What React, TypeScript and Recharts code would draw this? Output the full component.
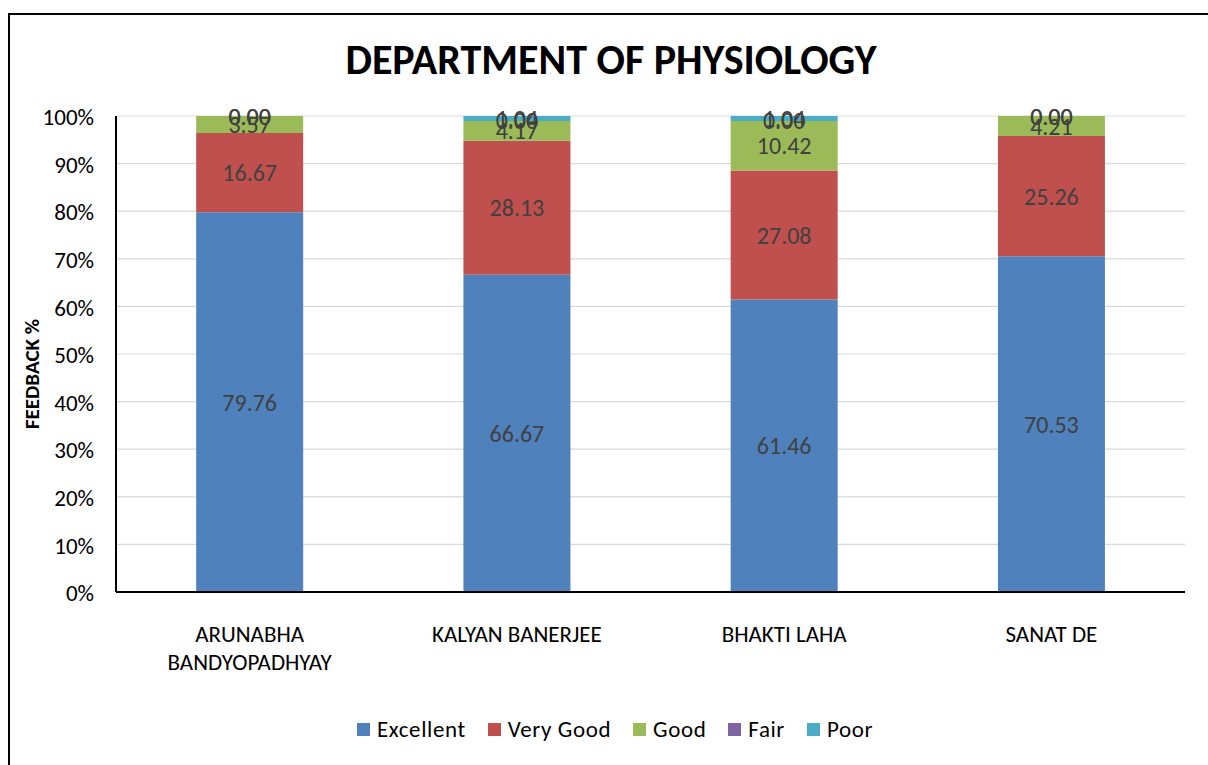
// @ts-nocheck
import { BarChart, Bar, XAxis, YAxis, CartesianGrid, LabelList } from "recharts";

const teachers = ["ARUNABHA\nBANDYOPADHYAY", "KALYAN BANERJEE", "BHAKTI LAHA", "SANAT DE"];
const excellent = [79.76, 66.67, 61.46, 70.53];
const veryGood = [16.67, 28.13, 27.08, 25.26];
const good = [3.57, 4.17, 10.42, 4.21];
const fair = [0, 0, 0, 0];
const poor = [0, 1.04, 1.04, 0];
const yTicks = [0, 10, 20, 30, 40, 50, 60, 70, 80, 90, 100];

const series = [
  { key: "Excellent", color: "#4F81BD" },
  { key: "Very Good", color: "#C0504D" },
  { key: "Good", color: "#9BBB59" },
  { key: "Fair", color: "#8064A2" },
  { key: "Poor", color: "#4BACC6" },
];

const data = teachers.map((name, i) => ({
  name,
  Excellent: excellent[i],
  "Very Good": veryGood[i],
  Good: good[i],
  Fair: fair[i],
  Poor: poor[i],
}));

const font = "Carlito, 'Liberation Sans', Arial, sans-serif";

function XTick({ x, y, payload }) {
  const lines = String(payload.value).split("\n");
  return (
    <text x={x} y={y + 42} textAnchor="middle" fontSize={23} fontFamily={font} fill="#000">
      {lines.map((l, i) => (
        <tspan key={i} x={x} dy={i === 0 ? 0 : 28}>
          {l}
        </tspan>
      ))}
    </text>
  );
}

function YLabel({ viewBox }) {
  const cy = viewBox.y + viewBox.height / 2 + 20;
  return (
    <text
      x={39}
      y={cy}
      transform={`rotate(-90, 39, ${cy})`}
      textAnchor="middle"
      fontSize={21}
      fontWeight="bold"
      fontFamily={font}
      fill="#000"
    >
      FEEDBACK %
    </text>
  );
}

export default function App() {
  return (
    <div style={{ position: "fixed", left: 0, top: 0, width: 1208, height: 765, overflow: "hidden", background: "#fff" }}>
      <div style={{ position: "absolute", left: 8, top: 13, width: 1230, height: 790, border: "2px solid #000", boxSizing: "border-box" }} />
      <div style={{ position: "absolute", left: 0, top: 34, width: 1222, textAlign: "center", fontFamily: font, fontWeight: "bold", fontSize: 42, color: "#000" }}>
        DEPARTMENT OF PHYSIOLOGY
      </div>
      <div style={{ position: "absolute", left: 0, top: 0 }}>
        <BarChart
          width={1208}
          height={765}
          data={data}
          barCategoryGap="30%"
          margin={{ top: 116, right: 23, bottom: 143, left: 0 }}
        >
          <CartesianGrid vertical={false} stroke="#d9d9d9" strokeWidth={1.2} />
          <XAxis
            dataKey="name"
            height={30}
            tick={<XTick />}
            tickLine={false}
            axisLine={{ stroke: "#000", strokeWidth: 2 }}
            interval={0}
          />
          <YAxis
            domain={[0, 100]}
            ticks={yTicks}
            allowDataOverflow
            width={116}
            tickFormatter={(v) => `${v}%`}
            tick={{ fontSize: 23, fontFamily: font, fill: "#000", dx: -14, dy: 1 }}
            tickLine={false}
            axisLine={{ stroke: "#000", strokeWidth: 2 }}
            label={<YLabel />}
          />
          {series.map((s) => (
            <Bar key={s.key} dataKey={s.key} stackId="a" fill={s.color} minPointSize={0.01} isAnimationActive={false}>
              <LabelList
                dataKey={s.key}
                position="center"
                formatter={(v) => Number(v).toFixed(2)}
                style={{ fontSize: 24, fontFamily: font, fill: "#404040" }}
              />
            </Bar>
          ))}
        </BarChart>
      </div>
      <div
        style={{
          position: "absolute",
          left: 0,
          top: 715,
          width: 1252,
          display: "flex",
          justifyContent: "center",
          fontFamily: font,
          fontSize: 23,
          letterSpacing: 0.6,
          color: "#000",
        }}
      >
        {series.map((s) => (
          <div key={s.key} style={{ display: "flex", alignItems: "center", marginRight: 22 }}>
            <span style={{ display: "inline-block", width: 13, height: 13, background: s.color, marginRight: 7 }} />
            <span>{s.key}</span>
          </div>
        ))}
      </div>
    </div>
  );
}
